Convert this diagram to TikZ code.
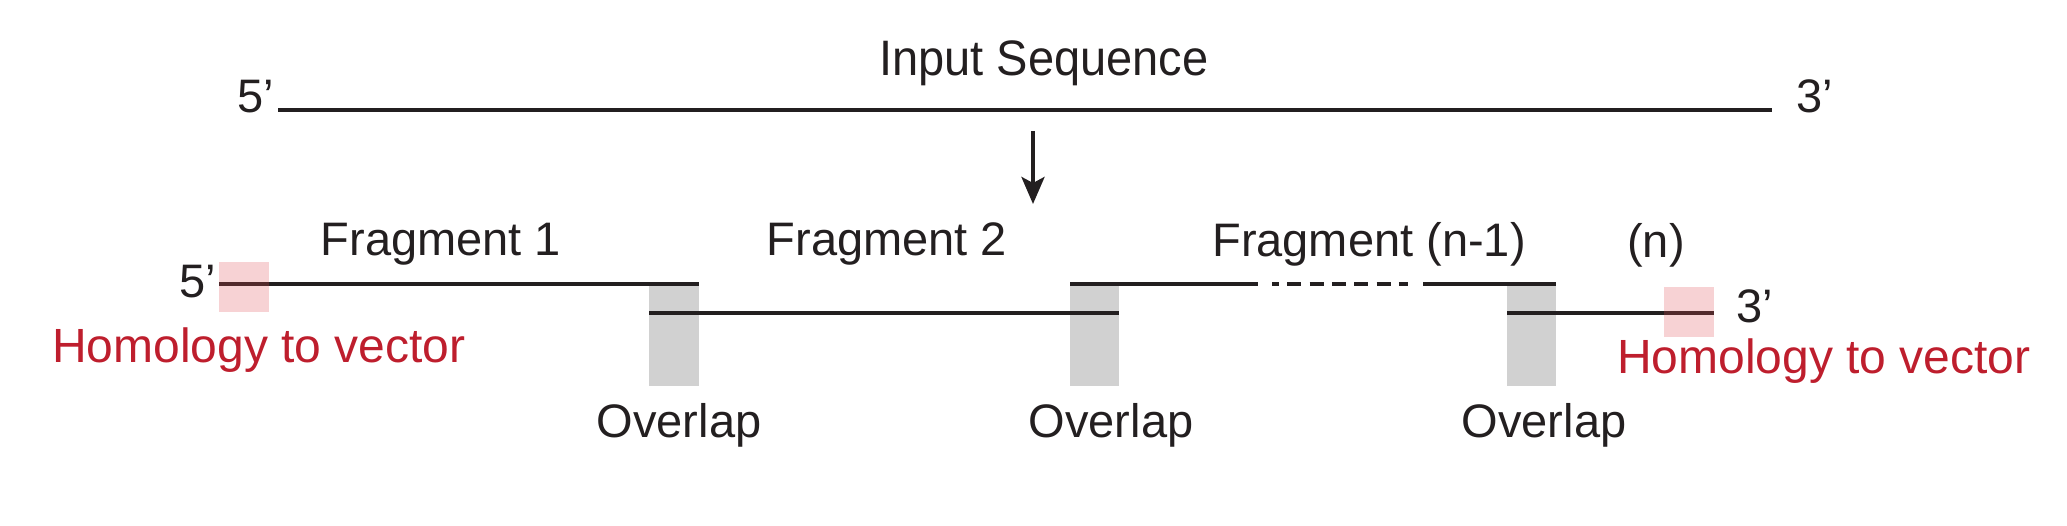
\documentclass[tikz,border=0pt]{standalone}
\usepackage{fontspec}
\setmainfont{Liberation Sans}
\usetikzlibrary{arrows.meta}
\definecolor{ink}{RGB}{35,31,32}
\definecolor{hred}{RGB}{190,30,45}
\definecolor{pinkc}{RGB}{223,75,83}
\definecolor{grayc}{RGB}{209,209,209}
\tikzset{
  lbl/.style={inner sep=0pt, outer sep=0pt, text=ink, font=\fontsize{47}{56}\selectfont},
  redlbl/.style={lbl, text=hred, font=\fontsize{48}{56}\selectfont},
  strand/.style={draw=ink, line width=3.4pt},
  dashstrand/.style={strand, dash pattern=on 14pt off 8.3pt, dash phase=7pt},
  overlapbox/.style={fill=grayc, draw=none},
  homobox/.style={fill=pinkc, fill opacity=0.25, draw=none},
  downarrow/.style={draw=ink, line width=4pt, -{Stealth[width=23pt,length=27pt,inset=6pt]}}
}
\begin{document}
\begin{tikzpicture}[x=1pt,y=-1pt]
\useasboundingbox (0,0) rectangle (2067,526);
% overlap boxes
\fill[overlapbox] (649,284) rectangle (699,386);
\fill[overlapbox] (1070,284) rectangle (1119,386);
\fill[overlapbox] (1507,284) rectangle (1556,386);
% coordinates
\coordinate (in5) at (278,110);
\coordinate (in3) at (1772,110);
\coordinate (arS) at (1033,131);
\coordinate (arE) at (1033,204);
\coordinate (f1a) at (219,284);
\coordinate (f1b) at (699,284);
\coordinate (f2a) at (649,313);
\coordinate (f2b) at (1119,313);
\coordinate (f3a) at (1070,284);
\coordinate (f3b) at (1258,284);
\coordinate (d3a) at (1272,284);
\coordinate (d3b) at (1408,284);
\coordinate (f3c) at (1423,284);
\coordinate (f3d) at (1556,284);
\coordinate (fna) at (1507,313);
\coordinate (fnb) at (1714,313);
% strands
\draw[strand] (in5) -- (in3);
\draw[downarrow] (arS) -- (arE);
\draw[strand] (f1a) -- (f1b);
\draw[strand] (f2a) -- (f2b);
\draw[strand] (f3a) -- (f3b);
\draw[dashstrand] (d3a) -- (d3b);
\draw[strand] (f3c) -- (f3d);
\draw[strand] (fna) -- (fnb);
% homology boxes
\fill[homobox] (219,262) rectangle (269,312);
\fill[homobox] (1664,287) rectangle (1714,337);
% labels
\node[lbl, anchor=base] (title) at (1044,76) {\scalebox{1}[1.06]{Input Sequence}};
\node[lbl, anchor=base west] (top5) at (237,113) {5’};
\node[lbl, anchor=base west] (top3) at (1796,113) {3’};
\node[lbl, anchor=base west] (low5) at (179,298) {5’};
\node[lbl, anchor=base west] (low3) at (1736,323) {3’};
\node[lbl, anchor=base] (frag1) at (441,256) {Fragment 1};
\node[lbl, anchor=base] (frag2) at (887,256) {Fragment 2};
\node[lbl, anchor=base] (fragn1) at (1369,257) {Fragment (n-1)};
\node[lbl, anchor=base] (fragn) at (1656,258) {(n)};
\node[lbl, anchor=base] (ov1) at (679,438) {Overlap};
\node[lbl, anchor=base] (ov2) at (1111,438) {Overlap};
\node[lbl, anchor=base] (ov3) at (1544,438) {Overlap};
\node[redlbl, anchor=base west] (hom1) at (52,363) {Homology to vector};
\node[redlbl, anchor=base west] (hom2) at (1617,374) {Homology to vector};
\end{tikzpicture}
\end{document}
